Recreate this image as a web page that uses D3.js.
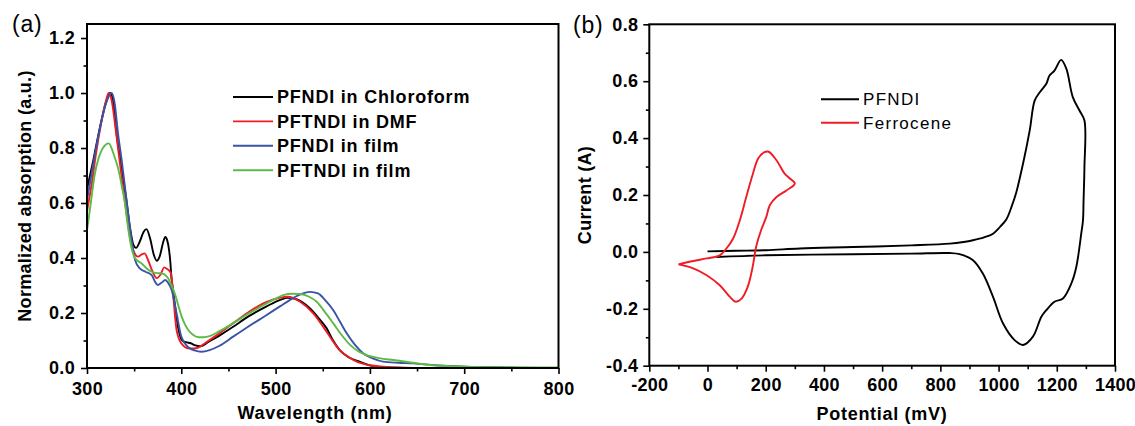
<!DOCTYPE html>
<html>
<head>
<meta charset="utf-8">
<script src="https://cdn.jsdelivr.net/npm/d3@7"></script>
<style>
  html, body { margin: 0; padding: 0; background: #fff; }
  svg text { font-family: "Liberation Sans", Arial, sans-serif; fill: #000; }
  .tick text { font-size: 18px; font-weight: bold; letter-spacing: 0.3px; }
  .tick line { stroke: #000; stroke-width: 1.6; }
</style>
</head>
<body>
<svg id="chart" width="1135" height="426"></svg>
<script>
// ---- panel (a): absorption spectra [wavelength nm, normalized absorption]
const pfndiChloroform = [[300,0.65],[306.7,0.756],[313.8,0.877],[320.9,0.975],[324,1.0],[327,0.985],[331.5,0.847],[336.8,0.726],[342,0.605],[345.6,0.51],[349,0.45],[352,0.437],[356,0.46],[360,0.495],[363,0.505],[367,0.47],[371,0.41],[374,0.39],[377,0.405],[381,0.46],[383,0.477],[385,0.465],[387,0.43],[388.5,0.38],[389.5,0.33],[391,0.29],[393,0.235],[397,0.14],[401,0.1],[405,0.094],[410,0.09],[415,0.082],[420,0.079],[430,0.098],[440,0.117],[455,0.15],[470,0.185],[490,0.223],[505,0.248],[513,0.255],[522,0.25],[536,0.218],[546,0.18],[554,0.145],[561,0.1],[568,0.065],[578,0.038],[589,0.023],[603,0.007],[620,0.002],[650,0],[800,0]];
const pftndiDmf = [[300,0.57],[305,0.67],[310,0.79],[315,0.89],[320,0.97],[323,1.0],[326,0.975],[330,0.88],[334,0.77],[338,0.66],[342,0.56],[346,0.47],[350,0.42],[354,0.405],[358,0.413],[361,0.417],[365,0.39],[369,0.355],[374,0.327],[378,0.34],[382,0.366],[385,0.36],[389,0.345],[391.5,0.26],[395,0.138],[400,0.09],[407,0.072],[413,0.071],[418,0.074],[425,0.09],[440,0.125],[455,0.163],[470,0.2],[490,0.24],[505,0.256],[513,0.259],[526,0.241],[540,0.199],[554,0.132],[568,0.065],[578,0.038],[586,0.023],[600,0.01],[614,0.005],[630,0.002],[660,0],[800,0]];
const pfndiFilm = [[300,0.61],[306,0.73],[313,0.86],[320,0.96],[326,1.0],[329,0.97],[333,0.85],[337,0.75],[340,0.665],[343,0.58],[345.6,0.508],[348,0.45],[351,0.393],[356,0.362],[362,0.35],[368.6,0.338],[372,0.315],[375,0.302],[379,0.31],[383,0.32],[386,0.31],[389.8,0.284],[395,0.199],[400,0.114],[407,0.077],[414,0.064],[421.6,0.059],[430,0.065],[440,0.08],[455,0.114],[470,0.148],[490.6,0.193],[505,0.225],[515,0.247],[525,0.266],[536.5,0.277],[545,0.271],[553,0.245],[561,0.211],[568,0.17],[575.4,0.126],[584,0.085],[593,0.053],[603,0.035],[614,0.023],[630,0.019],[646,0.017],[670,0.01],[702,0.005],[740,0.003],[760,0],[800,0]];
const pftndiFilm = [[300,0.5],[304,0.6],[308,0.7],[312,0.76],[316,0.795],[320,0.813],[323,0.817],[326,0.8],[329,0.77],[333,0.726],[337,0.66],[340,0.605],[344,0.5],[347,0.44],[351,0.399],[358,0.38],[364,0.36],[368.6,0.35],[374,0.345],[379,0.344],[383,0.338],[386,0.326],[389,0.305],[393,0.272],[397,0.225],[400.4,0.187],[404,0.158],[407.4,0.138],[412,0.122],[418,0.112],[424,0.112],[430,0.116],[440,0.133],[455,0.163],[470,0.195],[490.6,0.235],[500,0.252],[508,0.265],[518,0.27],[526,0.269],[535,0.26],[543.6,0.241],[552,0.205],[561,0.163],[570,0.12],[579,0.084],[588,0.06],[596.6,0.047],[610,0.036],[625,0.029],[640,0.022],[663.7,0.011],[702,0.005],[740,0.003],[780,0.002],[800,0.002]];

const absSeries = [
  { name: 'PFNDI in Chloroform', color: '#000000', data: pfndiChloroform },
  { name: 'PFTNDI in DMF', color: '#ee1c25', data: pftndiDmf },
  { name: 'PFNDI in film', color: '#3a54a5', data: pfndiFilm },
  { name: 'PFTNDI in film', color: '#5cba47', data: pftndiFilm }
];
const wlTicks = [300, 400, 500, 600, 700, 800];
const wlMinor = [350, 450, 550, 650, 750];
const absTicks = [0.0, 0.2, 0.4, 0.6, 0.8, 1.0, 1.2];
const absMinor = [0.1, 0.3, 0.5, 0.7, 0.9, 1.1];

// ---- panel (b): cyclic voltammetry [potential mV, current A]
const pfndiCv = [[0,0.002],[100,0.004],[202,0.006],[317,0.012],[500,0.017],[700,0.023],[832,0.029],[880,0.035],[912,0.041],[950,0.051],[981,0.064],[1005,0.088],[1027,0.115],[1045,0.16],[1061,0.21],[1084,0.31],[1107,0.427],[1124,0.532],[1141,0.56],[1164,0.591],[1175,0.62],[1192,0.637],[1215,0.675],[1233,0.643],[1255,0.544],[1278,0.497],[1295,0.462],[1295,0.298],[1292,0.181],[1290,0.111],[1284,0.064],[1267,-0.053],[1250,-0.111],[1221,-0.164],[1192,-0.175],[1164,-0.205],[1147,-0.228],[1118,-0.298],[1084,-0.327],[1055,-0.31],[1015,-0.251],[981,-0.158],[946,-0.076],[912,-0.029],[866,-0.008],[832,-0.004],[700,-0.006],[500,-0.008],[202,-0.012],[30,-0.018]];
const ferroceneCv = [[-100,-0.044],[-49,-0.032],[-3,-0.023],[42,-0.012],[65,0.012],[88,0.047],[111,0.111],[133,0.193],[156,0.275],[174,0.328],[194,0.35],[210,0.352],[237,0.322],[265,0.275],[283,0.258],[300,0.24],[271,0.216],[237,0.193],[214,0.164],[202,0.123],[184,0.076],[167,0.018],[155,-0.053],[138,-0.123],[117,-0.164],[97,-0.175],[77,-0.158],[42,-0.117],[-3,-0.082],[-49,-0.058],[-100,-0.044]];

const cvSeries = [
  { name: 'PFNDI', color: '#000000', data: pfndiCv },
  { name: 'Ferrocene', color: '#ee1c25', data: ferroceneCv }
];
const mvTicks = [-200, 0, 200, 400, 600, 800, 1000, 1200, 1400];
const mvMinor = [-100, 100, 300, 500, 700, 900, 1100, 1300];
const curTicks = [-0.4, -0.2, 0.0, 0.2, 0.4, 0.6, 0.8];
const curMinor = [-0.3, -0.1, 0.1, 0.3, 0.5, 0.7];

const svg = d3.select('#chart');

// plain hyphen instead of d3's unicode minus, like the original figure
const fmtInt = d => String(Math.round(d));
const fmtDec = d => d.toFixed(1);

function drawAxes(g, x, y, o) {
  const [x0, x1] = x.range();
  const [y0, y1] = y.range();
  // minor ticks
  g.append('g').attr('transform', `translate(0,${y0})`)
    .call(d3.axisBottom(x).tickValues(o.xMinor).tickSize(3.5).tickSizeOuter(0).tickFormat(''))
    .call(a => a.select('.domain').remove());
  g.append('g').attr('transform', `translate(${x0},0)`)
    .call(d3.axisLeft(y).tickValues(o.yMinor).tickSize(3.5).tickSizeOuter(0).tickFormat(''))
    .call(a => a.select('.domain').remove());
  // major ticks
  g.append('g').attr('transform', `translate(0,${y0})`)
    .call(d3.axisBottom(x).tickValues(o.xTicks).tickSize(6).tickSizeOuter(0).tickPadding(o.xPad).tickFormat(fmtInt))
    .call(a => a.select('.domain').remove());
  g.append('g').attr('transform', `translate(${x0},0)`)
    .call(d3.axisLeft(y).tickValues(o.yTicks).tickSize(6).tickSizeOuter(0).tickPadding(o.yPad).tickFormat(fmtDec))
    .call(a => a.select('.domain').remove());
  // frame
  g.append('rect')
    .attr('x', x0).attr('y', y1)
    .attr('width', x1 - x0).attr('height', y0 - y1)
    .attr('fill', 'none').attr('stroke', '#000').attr('stroke-width', 2);
}

// ---------- panel (a)
const xa = d3.scaleLinear().domain([300, 800]).range([87, 558.5]);
const ya = d3.scaleLinear().domain([0, 1.251]).range([368, 24]);
const ga = svg.append('g');

const lineA = d3.line().x(d => xa(d[0])).y(d => ya(d[1])).curve(d3.curveMonotoneX);
ga.selectAll('path.spec').data(absSeries).join('path')
  .attr('class', 'spec')
  .attr('d', d => lineA(d.data))
  .attr('fill', 'none').attr('stroke', d => d.color).attr('stroke-width', 1.9);

drawAxes(ga, xa, ya, { xTicks: wlTicks, xMinor: wlMinor, yTicks: absTicks, yMinor: absMinor, xPad: 8, yPad: 6 });

const legA = ga.append('g');
absSeries.forEach((s, i) => {
  const yy = 97 + i * 24.4;
  legA.append('line').attr('x1', 233).attr('x2', 273).attr('y1', yy).attr('y2', yy)
    .attr('stroke', s.color).attr('stroke-width', 1.9);
  legA.append('text').attr('x', 277).attr('y', yy).attr('dy', '0.35em')
    .attr('font-size', 18).attr('font-weight', 'bold').attr('letter-spacing', '0.8px').text(s.name);
});

ga.append('text').attr('x', 315).attr('y', 419).attr('text-anchor', 'middle')
  .attr('font-size', 18).attr('font-weight', 'bold').attr('letter-spacing', '0.7px').text('Wavelength (nm)');
ga.append('text').attr('transform', 'translate(31,196) rotate(-90)').attr('text-anchor', 'middle')
  .attr('font-size', 18).attr('font-weight', 'bold').attr('letter-spacing', '0.3px').text('Normalized absorption (a.u.)');
ga.append('text').attr('x', 12).attr('y', 32).attr('font-size', 23).attr('letter-spacing', '0.8px').text('(a)');

// ---------- panel (b)
const xb = d3.scaleLinear().domain([-200, 1400]).range([649.3, 1115]);
const yb = d3.scaleLinear().domain([-0.4, 0.8]).range([365.7, 24.3]);
const gb = svg.append('g');

const lineB = d3.line().x(d => xb(d[0])).y(d => yb(d[1])).curve(d3.curveCatmullRom.alpha(0.5));
gb.selectAll('path.cv').data(cvSeries).join('path')
  .attr('class', 'cv')
  .attr('d', d => lineB(d.data))
  .attr('fill', 'none').attr('stroke', d => d.color).attr('stroke-width', 1.9);

drawAxes(gb, xb, yb, { xTicks: mvTicks, xMinor: mvMinor, yTicks: curTicks, yMinor: curMinor, xPad: 6.5, yPad: 5 });

const legB = gb.append('g');
cvSeries.forEach((s, i) => {
  const yy = 99.3 + i * 23.4;
  legB.append('line').attr('x1', 821).attr('x2', 859).attr('y1', yy).attr('y2', yy)
    .attr('stroke', s.color).attr('stroke-width', 1.9);
  legB.append('text').attr('x', 863).attr('y', yy).attr('dy', '0.35em')
    .attr('font-size', 17).attr('letter-spacing', '1.3px').text(s.name);
});

gb.append('text').attr('x', 882).attr('y', 420).attr('text-anchor', 'middle')
  .attr('font-size', 18).attr('font-weight', 'bold').attr('letter-spacing', '0.7px').text('Potential (mV)');
gb.append('text').attr('transform', 'translate(591,195) rotate(-90)').attr('text-anchor', 'middle')
  .attr('font-size', 18).attr('font-weight', 'bold').attr('letter-spacing', '0.3px').text('Current (A)');
gb.append('text').attr('x', 573).attr('y', 33).attr('font-size', 23).attr('letter-spacing', '0.8px').text('(b)');
</script>
</body>
</html>
